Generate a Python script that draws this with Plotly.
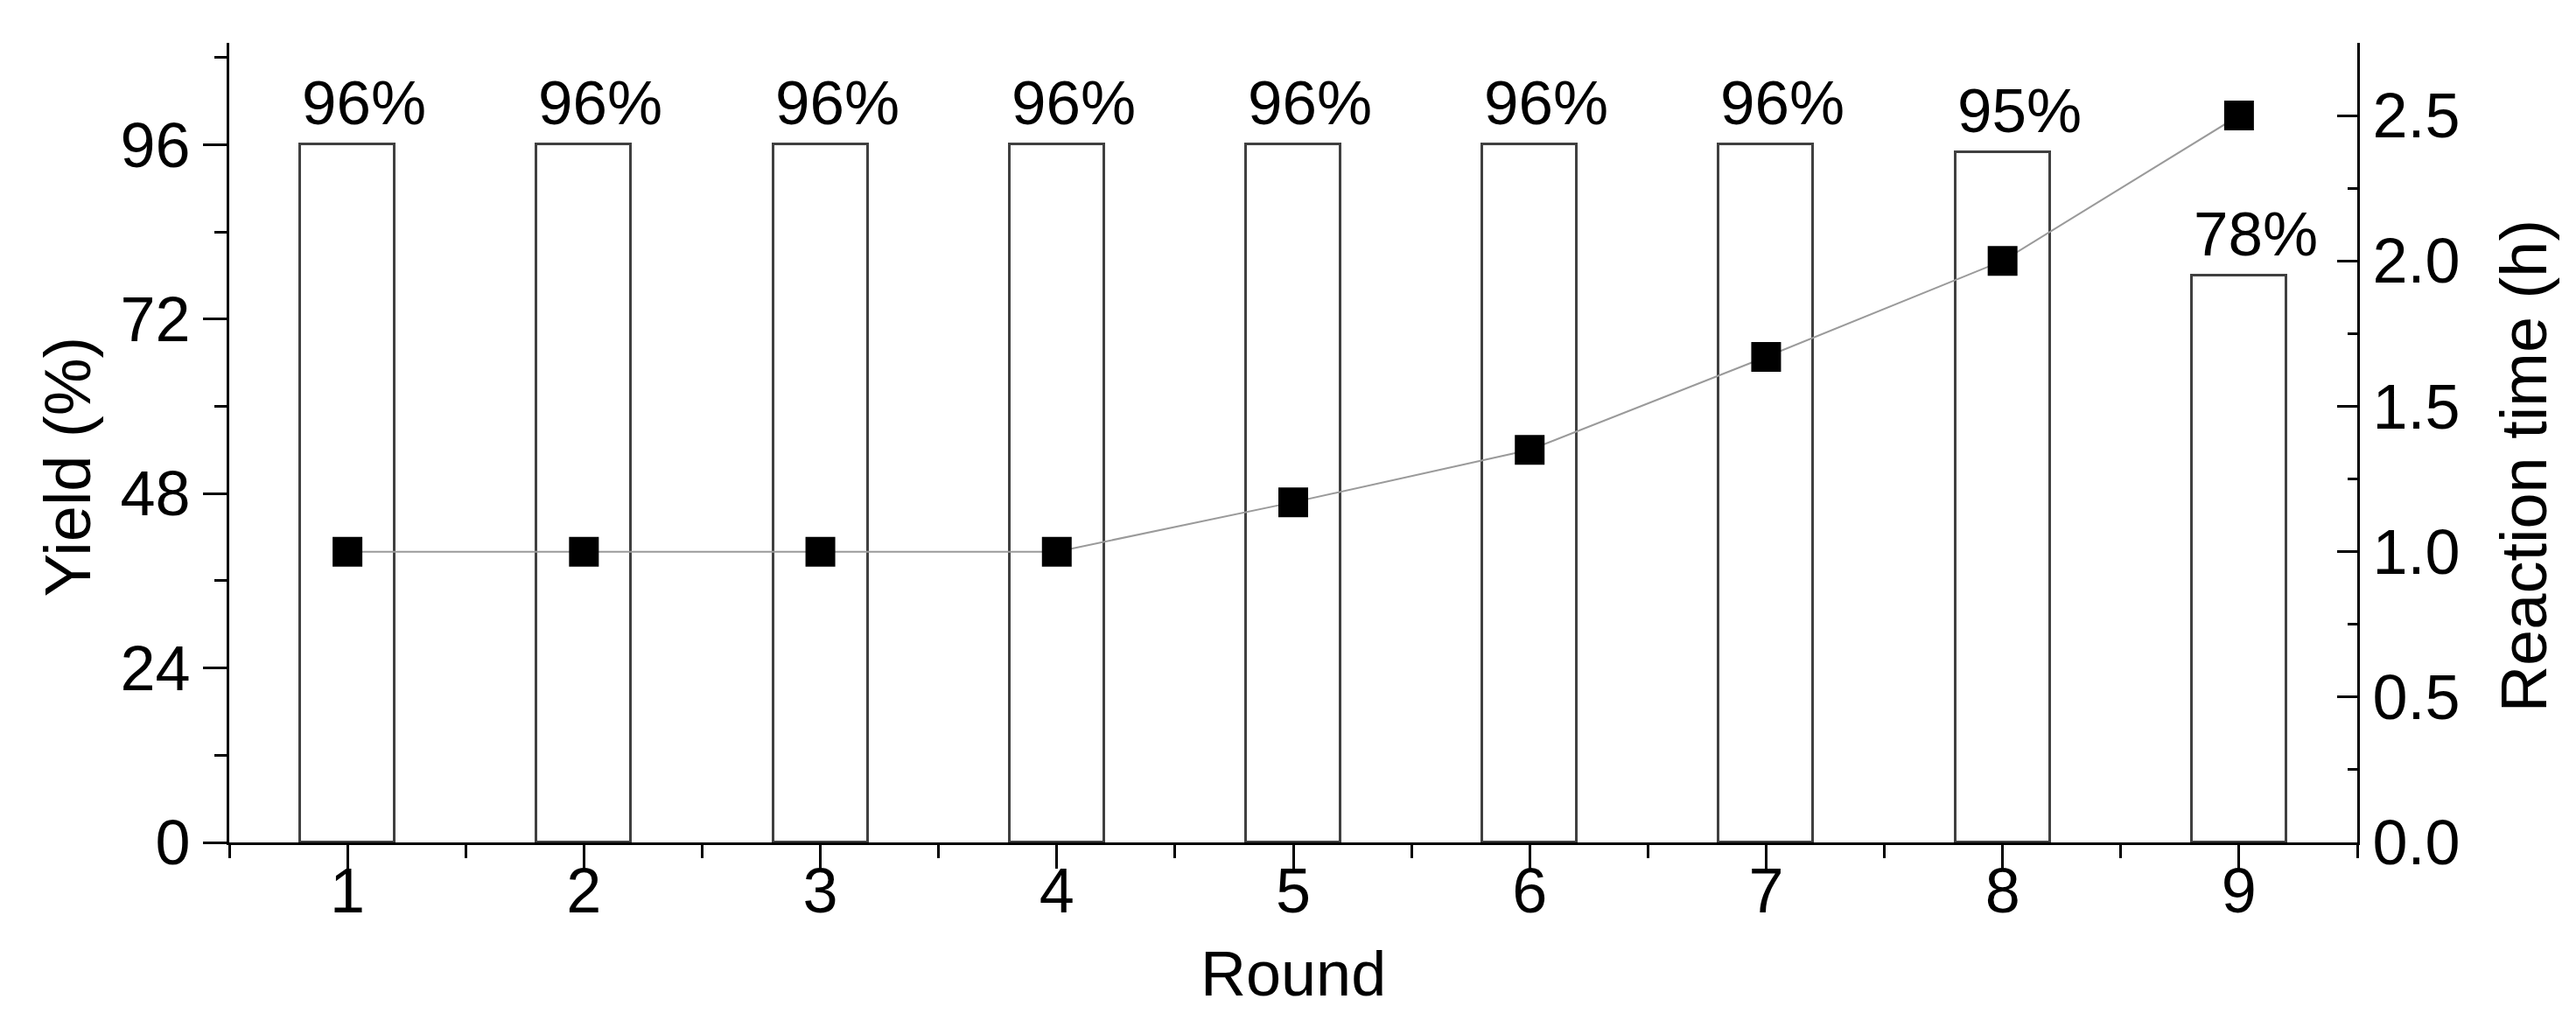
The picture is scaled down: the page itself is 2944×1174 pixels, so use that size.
import plotly.graph_objects as go

rounds = [1, 2, 3, 4, 5, 6, 7, 8, 9]
yield_pct = [96, 96, 96, 96, 96, 96, 96, 95, 78]
yield_labels = ["96%", "96%", "96%", "96%", "96%", "96%", "96%", "95%", "78%"]
reaction_time_h = [1.0, 1.0, 1.0, 1.0, 1.17, 1.35, 1.67, 2.0, 2.5]

y_ticks = [0, 24, 48, 72, 96]
y2_ticks = [0.0, 0.5, 1.0, 1.5, 2.0, 2.5]

FONT = "Liberation Sans, Arial, sans-serif"
FS = 72
BAR_W = 0.4

fig = go.Figure()
fig.add_trace(go.Bar(
    x=rounds, y=yield_pct, width=BAR_W, yaxis="y",
    marker=dict(color="white", line=dict(color="#404040", width=3)),
    showlegend=False,
))
fig.add_trace(go.Scatter(
    x=rounds, y=reaction_time_h, yaxis="y2", mode="lines+markers",
    line=dict(color="#9a9a9a", width=2),
    marker=dict(symbol="square", size=34, color="black", line=dict(width=0)),
    showlegend=False, cliponaxis=False,
))

annotations = []
for r, v, lab in zip(rounds, yield_pct, yield_labels):
    annotations.append(dict(
        x=r, y=v, xref="x", yref="y", text=lab, showarrow=False,
        xanchor="left", yanchor="bottom", xshift=-54, yshift=6,
        font=dict(family=FONT, size=71, color="black"),
    ))

annotations += [
    dict(text="Yield (%)", xref="paper", yref="paper", x=-0.0757, y=0.47,
         xanchor="center", yanchor="middle", textangle=-90, showarrow=False,
         font=dict(family=FONT, size=74, color="black")),
    dict(text="Reaction time (h)", xref="paper", yref="paper", x=1.0787, y=0.4705,
         xanchor="center", yanchor="middle", textangle=-90, showarrow=False,
         font=dict(family=FONT, size=74, color="black")),
    dict(text="Round", xref="paper", yref="paper", x=0.5, y=-0.164,
         xanchor="center", yanchor="middle", showarrow=False,
         font=dict(family=FONT, size=FS, color="black")),
]

tickfont = dict(family=FONT, size=FS, color="black")

fig.update_layout(
    width=2944, height=1174,
    margin=dict(l=254, r=258, t=41, b=219, pad=0, autoexpand=False),
    paper_bgcolor="white", plot_bgcolor="white",
    showlegend=False, bargap=0,
    annotations=annotations,
    xaxis=dict(
        range=[0.5, 9.5], tickmode="array", tickvals=rounds, automargin=False,
        ticks="outside", ticklen=27, tickwidth=3, tickcolor="black",
        showline=True, linecolor="black", linewidth=3,
        showgrid=False, zeroline=False, tickfont=tickfont,
        ticklabelstandoff=-36,
        minor=dict(tick0=0.5, dtick=1, ticks="outside", ticklen=15, tickwidth=3, tickcolor="black", showgrid=False),
    ),
    yaxis=dict(
        range=[0, 110], tickmode="array", tickvals=y_ticks, automargin=False,
        ticks="outside", ticklen=27, tickwidth=3, tickcolor="black",
        showline=True, linecolor="black", linewidth=3,
        showgrid=False, zeroline=False, tickfont=tickfont,
        minor=dict(tick0=12, dtick=24, ticks="outside", ticklen=14, tickwidth=3, tickcolor="black", showgrid=False),
    ),
    yaxis2=dict(
        overlaying="y", side="right", range=[0, 2.75], automargin=False,
        tickmode="array", tickvals=y2_ticks, tickformat=".1f",
        ticks="inside", ticklen=23, tickwidth=3, tickcolor="black",
        showline=True, linecolor="black", linewidth=3,
        showgrid=False, zeroline=False, tickfont=tickfont,
        minor=dict(tick0=0.25, dtick=0.5, ticks="inside", ticklen=11, tickwidth=3, tickcolor="black", showgrid=False),
    ),
)

fig.write_html("out.html")
